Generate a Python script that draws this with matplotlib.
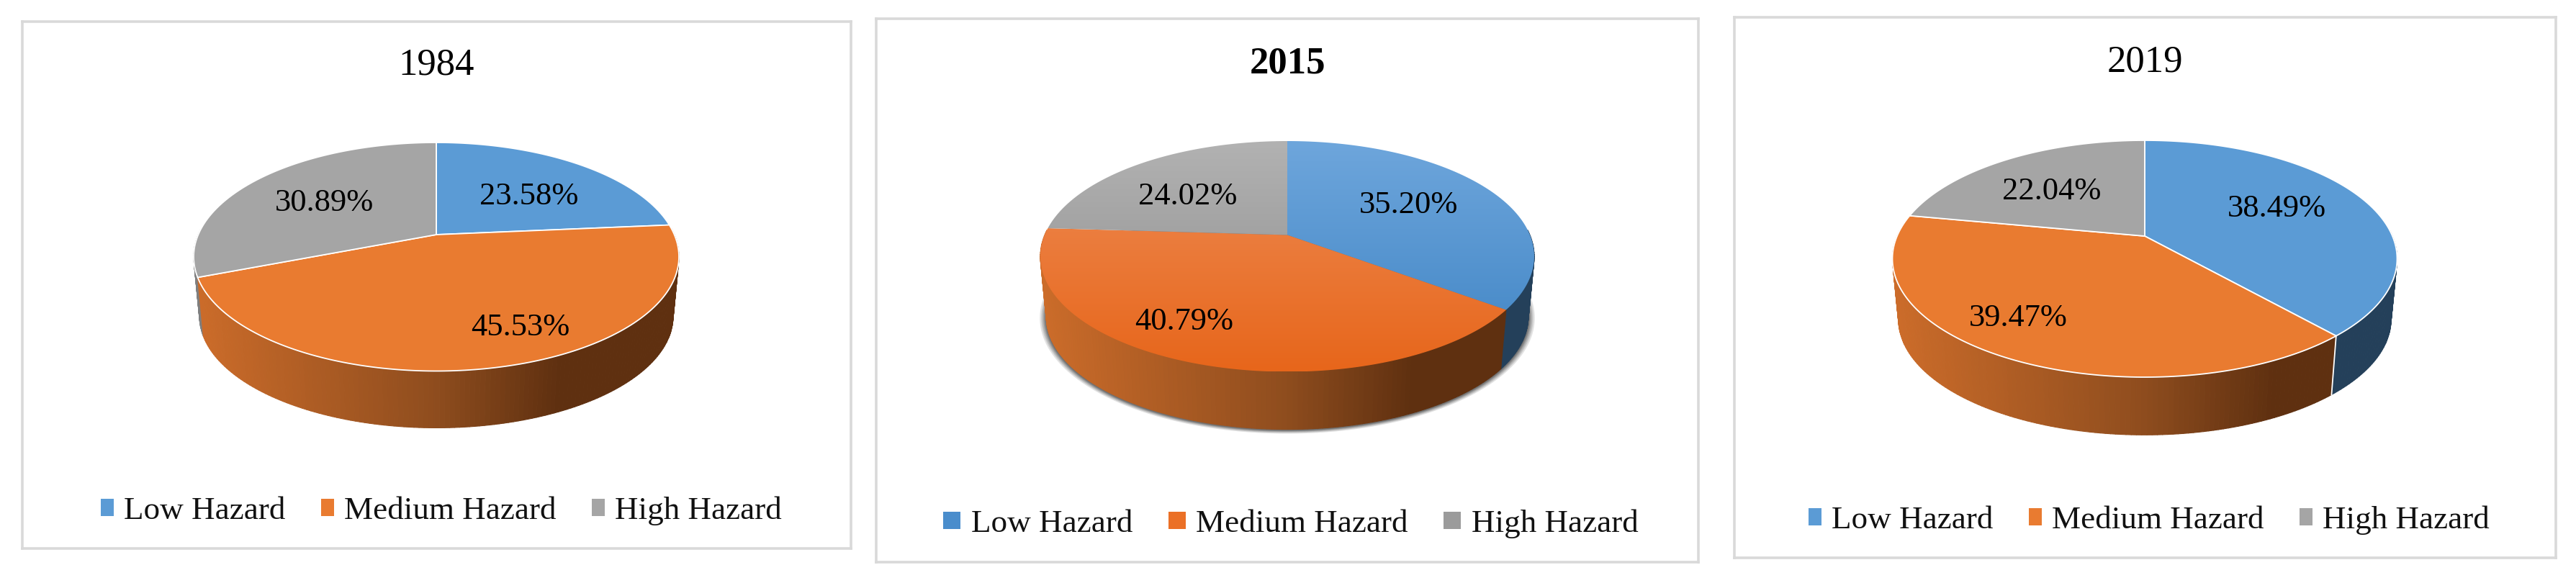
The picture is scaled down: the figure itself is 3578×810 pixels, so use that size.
import numpy as np
import matplotlib
matplotlib.use("Agg")
import matplotlib.pyplot as plt
from matplotlib.collections import PolyCollection
from matplotlib.colors import LinearSegmentedColormap, to_rgb
from matplotlib.patches import Patch, Polygon

plt.rcParams['font.family'] = ['Liberation Serif', 'DejaVu Serif']

# data
years = ["1984", "2015", "2019"]
categories = ["Low Hazard", "Medium Hazard", "High Hazard"]
low_hazard = [23.58, 35.20, 38.49]
medium_hazard = [45.53, 40.79, 39.47]
high_hazard = [30.89, 24.02, 22.04]

# colours
flat_colors = ['#5b9bd5', '#e97b30', '#a5a5a5']
side_blue = '#24405a'
side_gray = '#7f7f7f'
side_orange = LinearSegmentedColormap.from_list(
    "side", [(0, '#cc6c2a'), (0.5, '#8f4d1e'), (0.76, '#5f3010'), (1, '#5f3010')])
top_gradient = [('#6ea6dc', '#3f84c4'), ('#ee8c55', '#e7661b'), ('#b2b2b2', '#8c8c8c')]
legend_gradient = ['#4a8dcc', '#eb7026', '#9b9b9b']

# layout of each panel in pixels of the 3578x810 picture
frames = [(31, 1182, 30, 762), (1217, 2359, 26, 781), (2409, 3550, 24, 775)]
apex_x = [606, 1788, 2979]
apex_y = [326, 326.5, 328]
radius_x = [337, 343, 350.5]
far_y = [128, 130.5, 133]
near_y = [189.5, 190, 196]
depth = [83.5, 84.6, 85]
title_y = [90, 88, 86]
legend_pos = [(613, 710), (1793, 728), (2985, 723)]
handle_len = [0.39, 0.53, 0.39]
label_pos = [
    [(735, 273), (723, 455), (450, 282)],
    [(1957, 285), (1645, 447), (1650, 273)],
    [(3162, 290), (2803, 442), (2850, 266)],
]

fig = plt.figure(figsize=(35.78, 8.10), dpi=100, facecolor='white')


def project(theta, i):
    """ angle clockwise from the top -> x, y relative to the pie apex """
    ratio = near_y[i] / far_y[i]
    p = (ratio - 1) / (ratio + 1)
    c = far_y[i] * (1 + p)
    f = radius_x[i] * np.sqrt(1 - p ** 2)
    d = 1 + p * np.cos(theta)
    return f * np.sin(theta) / d, -c * np.cos(theta) / d


def draw_panel(i):
    x0, x1, y0, y1 = frames[i]
    ax = fig.add_axes([x0 / 3578, 1 - y1 / 810, (x1 - x0) / 3578, (y1 - y0) / 810])
    ax.set_xticks([])
    ax.set_yticks([])
    for s in ax.spines.values():
        s.set_color('#d9d9d9')
        s.set_linewidth(2.6)

    values = [low_hazard[i], medium_hazard[i], high_hazard[i]]
    bounds = np.cumsum([0] + values) / sum(values) * 2 * np.pi
    cx, cy = apex_x[i], apex_y[i]
    shrink = 0.976

    # drop shadow only on the 2015 pie
    all_t = np.linspace(0, 2 * np.pi, 360)
    px, py = project(all_t, i)
    if i == 1:
        for grow in [9, 7, 5.5, 4, 3, 2, 1]:
            sc = shrink + grow / radius_x[i]
            ax.add_patch(Polygon(np.c_[cx + sc * px, cy + depth[i] + sc * py + 1], closed=True,
                                 fc='black', ec='none', alpha=0.11, zorder=1))

    # side wall, far strips first
    thetas, polys, cols = [], [], []
    for k in range(3):
        n = max(int(np.degrees(bounds[k + 1] - bounds[k])), 2)
        t = np.linspace(bounds[k], bounds[k + 1], n + 1)
        for a, b in zip(t[:-1], t[1:]):
            if np.cos((a + b) / 2) > 0.05:
                continue
            ax_, ay_ = project(a, i)
            bx_, by_ = project(b, i)
            polys.append([(cx + ax_, cy + ay_), (cx + bx_, cy + by_),
                          (cx + shrink * bx_, cy + depth[i] + shrink * by_),
                          (cx + shrink * ax_, cy + depth[i] + shrink * ay_)])
            thetas.append(np.cos((a + b) / 2))
            if k == 1:
                cols.append(side_orange((ax_ + radius_x[i]) / (2 * radius_x[i])))
            else:
                cols.append(to_rgb(side_blue if k == 0 else side_gray))
    order = np.argsort(thetas)[::-1]
    ax.add_collection(PolyCollection([polys[j] for j in order],
                                     facecolors=[cols[j] for j in order],
                                     edgecolors=[cols[j] for j in order],
                                     linewidths=0.8, zorder=2))

    # top face
    for k in range(3):
        n = max(int(np.degrees(bounds[k + 1] - bounds[k])), 2)
        t = np.linspace(bounds[k], bounds[k + 1], n + 1)
        sx, sy = project(t, i)
        pts = np.vstack([[cx, cy], np.c_[cx + sx, cy + sy]])
        if i == 1:
            poly = Polygon(pts, closed=True, fc='none', ec='none', zorder=3)
            ax.add_patch(poly)
            c_top, c_bot = top_gradient[k]
            grad = np.linspace(to_rgb(c_top), to_rgb(c_bot), 128)[:, None, :]
            im = ax.imshow(grad, extent=(x0, x1, cy + near_y[i], cy - far_y[i]),
                           aspect='auto', interpolation='bilinear', zorder=3)
            im.set_clip_path(poly)
        else:
            ax.add_patch(Polygon(pts, closed=True, fc=flat_colors[k], ec='white',
                                 lw=1.3, joinstyle='round', zorder=3))

    # white seam on the 2019 side wall
    if i == 2:
        sx, sy = project(bounds[1], i)
        ax.plot([cx + sx, cx + shrink * sx], [cy + sy, cy + depth[i] + shrink * sy],
                color='white', lw=1.3, zorder=3)

    # labels
    for k in range(3):
        lx, ly = label_pos[i][k]
        ax.text(lx, ly, f"{values[k]:.2f}%", ha='center', va='center',
                fontsize=32, color='black', zorder=5)

    # title and legend
    ax.text(cx, title_y[i], years[i], ha='center', va='center', fontsize=38,
            color='black', fontweight='bold' if i == 1 else 'normal')
    swatches = legend_gradient if i == 1 else flat_colors
    handles = [Patch(fc=swatches[k], ec='none', label=categories[k]) for k in range(3)]
    lx, ly = legend_pos[i]
    leg = ax.legend(handles=handles, ncol=3, loc='center', frameon=False,
                    bbox_to_anchor=(lx, ly), bbox_transform=ax.transData,
                    fontsize=32.5, handlelength=handle_len[i], handleheight=0.45,
                    handletextpad=0.32, columnspacing=1.1, borderpad=0, borderaxespad=0)
    for txt in leg.get_texts():
        txt.set_color('#111111')

    ax.set_xlim(x0, x1)
    ax.set_ylim(y1, y0)


for i in range(3):
    draw_panel(i)

fig.savefig('out.png', dpi=100, facecolor='white')
